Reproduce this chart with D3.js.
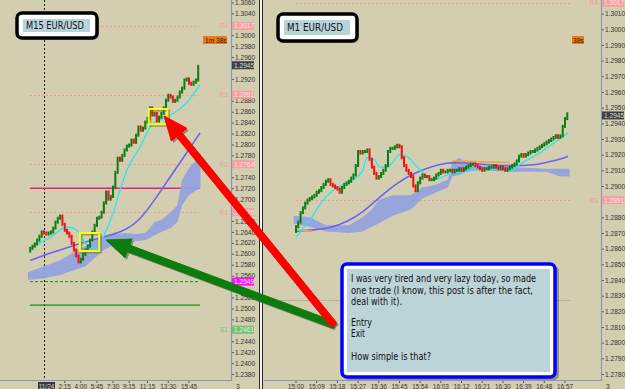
<!DOCTYPE html>
<html>
<head>
<meta charset="utf-8">
<script src="https://cdn.jsdelivr.net/npm/d3@7"></script>
<style>
  body { margin: 0; background: #d4ceb1; }
  text { font-family: "Liberation Sans", Arial, sans-serif; }
</style>
</head>
<body>
<svg id="chart" width="625" height="389"></svg>
<script>
// ---- M15 panel data (bar 0 = 11/24 00:00, 15 min bars) ----
const m15StartBar = -6;
const m15FirstOpen = 1.2605;
const m15Closes = [
  1.2610, 1.2614, 1.2618, 1.2625, 1.2632, 1.2640, 1.2638, 1.2636, 1.2638, 1.2640,
  1.2647, 1.2658, 1.2665, 1.2669, 1.2654, 1.2643, 1.2638, 1.2632, 1.2619, 1.2607,
  1.2596, 1.2585, 1.2590, 1.2599, 1.2607, 1.2614, 1.2625, 1.2640, 1.2652, 1.2665,
  1.2667, 1.2676, 1.2693, 1.2713, 1.2700, 1.2705, 1.2722, 1.2749, 1.2775, 1.2771,
  1.2780, 1.2790, 1.2797, 1.2799, 1.2808, 1.2804, 1.2817, 1.2832, 1.2826, 1.2830,
  1.2841, 1.2848, 1.2867, 1.2854, 1.2857, 1.2843, 1.2850, 1.2857, 1.2867, 1.2881,
  1.2890, 1.2887, 1.2879, 1.2881, 1.2887, 1.2896, 1.2903, 1.2918, 1.2920, 1.2912,
  1.2910, 1.2914, 1.2918, 1.2943
];
// [bar, price]
const m15Fast = [[-6,1.2610],[2.6,1.2630],[10,1.2649],[14.3,1.2643],[18.7,1.2616],[23,1.2610],
  [25.7,1.2630],[30,1.2674],[33,1.2716],[36,1.2753],[41.7,1.2795],[47.4,1.2839],[53.5,1.2850],
  [58,1.2862],[61.5,1.2874],[67.8,1.2909]];
const m15Slow = [[-6,1.2588],[2.6,1.2601],[17,1.2621],[24.3,1.2629],[34.3,1.2640],[41.7,1.2661],
  [49,1.2704],[57.8,1.2759],[67.8,1.2821]];
// [bar, spanTop, spanBottom]
const m15Cloud = [[-7,1.2566,1.2552],[0,1.2577,1.2555],[7,1.2588,1.2561],[13,1.2603,1.2570],
  [18,1.2614,1.2577],[22,1.2625,1.2592],[26,1.2632,1.2607],[31,1.2636,1.2618],[35,1.2638,1.2621],
  [40,1.2636,1.2623],[44,1.2638,1.2625],[46,1.2647,1.2629],[48,1.2658,1.2634],[51,1.2662,1.2640],
  [55,1.2676,1.2647],[58,1.2689,1.2658],[60,1.2735,1.2689],[63,1.2757,1.2707],[66,1.2771,1.2716],
  [68,1.2786,1.2720]];
const m15Ticks = d3.range(0, 35).map(i => 1.2380 + i * 0.0020);
const m15TimeBars = [9, 16, 23, 30, 37, 45, 54, 63];
const m15TimeLabels = ["2:15", "4:00", "5:45", "7:30", "9:15", "11:15", "13:30", "15:45"];
const m15Pivots = [["R4", 1.3017], ["R3", 1.2891], ["R2", 1.2764], ["R1", 1.2676]];
const m15HLine = 1.2720;
const m15GreenDotted = 1.2549;
const m15GreenSolid = 1.2506;
const m15S1 = 1.2461;
const lastPrice = 1.2945;

// ---- M1 panel data (bar 0 = 15:00, 1 min bars) ----
const m1FirstOpen = 1.2871;
const m1Closes = [
  1.2874, 1.2877, 1.2883, 1.2886, 1.2889, 1.2891, 1.2892, 1.2893, 1.2894, 1.2896,
  1.2897, 1.2899, 1.2901, 1.2903, 1.2904, 1.2901, 1.2900, 1.2899, 1.2898, 1.2896,
  1.2899, 1.2901, 1.2902, 1.2903, 1.2905, 1.2907, 1.2913, 1.2922, 1.2921, 1.2922,
  1.2922, 1.2923, 1.2917, 1.2912, 1.2908, 1.2905, 1.2906, 1.2908, 1.2910, 1.2913,
  1.2922, 1.2924, 1.2924, 1.2925, 1.2926, 1.2925, 1.2918, 1.2913, 1.2910, 1.2908,
  1.2906, 1.2900, 1.2897, 1.2902, 1.2905, 1.2907, 1.2906, 1.2906, 1.2904, 1.2904,
  1.2905, 1.2907, 1.2908, 1.2910, 1.2909, 1.2909, 1.2910, 1.2910, 1.2909, 1.2910,
  1.2910, 1.2911, 1.2910, 1.2911, 1.2912, 1.2913, 1.2914, 1.2914, 1.2913, 1.2912,
  1.2911, 1.2910, 1.2911, 1.2911, 1.2912, 1.2912, 1.2913, 1.2912, 1.2911, 1.2912,
  1.2911, 1.2910, 1.2911, 1.2912, 1.2913, 1.2914, 1.2916, 1.2919, 1.2920, 1.2919,
  1.2920, 1.2921, 1.2922, 1.2922, 1.2923, 1.2924, 1.2925, 1.2926, 1.2927, 1.2928,
  1.2929, 1.2930, 1.2931, 1.2932, 1.2931, 1.2932, 1.2938, 1.2943, 1.2946
];
const m1Fast = [[0,1.2867],[3,1.2873],[6,1.2878],[9,1.2885],[13,1.2893],[18,1.2899],[22,1.2902],
  [26,1.2905],[29,1.2910],[31,1.2918],[34,1.2917],[36.5,1.2912],[39.5,1.2912],[42,1.2915],
  [45,1.2920],[48,1.2919],[51,1.2915],[54,1.2910],[57,1.2906],[59.5,1.2904],[62.6,1.2905],
  [65.6,1.2907],[72.6,1.2909],[80,1.2911],[85.6,1.2911],[91.7,1.2910],[94.3,1.2911],
  [98.7,1.2915],[106,1.2921],[111.7,1.2927],[115.6,1.2931],[118.3,1.2934]];
const m1Slow = [[0,1.2871],[7.4,1.2872],[14.8,1.2873],[22,1.2877],[29,1.2883],[36.5,1.2893],
  [44,1.2902],[51,1.2908],[58,1.2912],[65.6,1.2915],[72.6,1.2915],[80,1.2914],[87.4,1.2913],
  [94.3,1.2913],[101.7,1.2913],[109,1.2915],[115,1.2917],[118.3,1.2919]];
const m1Kijun = [[[0,1.2872],[7,1.2871]], [[68,1.2916],[93,1.2915]]];
const m1Cloud = [[-1,1.2881,1.2876],[6,1.2880,1.2874],[13,1.2875,1.2871],[23,1.2875,1.2870],
  [29,1.2880,1.2871],[33,1.2885,1.2874],[36,1.2891,1.2876],[42,1.2894,1.2881],[50,1.2894,1.2885],
  [55,1.2899,1.2892],[61,1.2901,1.2896],[66,1.2904,1.2899],[68,1.2915,1.2906],[71,1.2918,1.2907],
  [74,1.2915,1.2909],[80,1.2913,1.2910],[94,1.2912,1.2909],[109,1.2911,1.2909],[115,1.2911,1.2906],
  [119,1.2911,1.2906]];
const m1Ticks = d3.range(0, 24).map(i => 1.2780 + i * 0.0010);
const m1TimeBars = d3.range(0, 118, 9);
const m1TimeLabels = ["15:00","15:09","15:18","15:27","15:36","15:45","15:54","16:03","16:12","16:21","16:30","16:39","16:48","16:57"];
const m1Pivots = [["R4", 1.3017], ["R3", 1.2891]];
const m1GreyLine = 1.2827;

const note = ["I was very tired and very lazy today, so made",
  "one trade (I know, this post is after the fact,",
  "deal with it).", "", "Entry", "Exit", "", "How simple is that?"];

// ---- layout ----
const BG = "#d4ceb1";
const svg = d3.select("#chart");
svg.append("rect").attr("width", 625).attr("height", 389).attr("fill", BG);

const yL = d3.scaleLinear().domain([1.2380, 1.3060]).range([374, 2.4]);
const xL = d3.scaleLinear().domain([0, 63]).range([44, 189]);
const yR = d3.scaleLinear().domain([1.2780, 1.3010]).range([374, 13.6]);
const xR = d3.scaleLinear().domain([0, 117]).range([296, 565]);

svg.append("defs").html(`
  <clipPath id="clipL"><rect x="0" y="0" width="231" height="380"/></clipPath>
  <clipPath id="clipR"><rect x="265" y="0" width="336" height="380"/></clipPath>`);

function drawPanel(opt) {
  const { x, y, g } = opt;

  // pivot dotted lines
  opt.pivots.forEach(([name, p]) => {
    g.append("line").attr("x1", opt.lineX[0]).attr("x2", opt.lineX[1])
      .attr("y1", Math.round(y(p)) + 0.5).attr("y2", Math.round(y(p)) + 0.5)
      .attr("stroke", "#f29a9a").attr("stroke-dasharray", "2,2");
  });

  // cloud
  g.append("path").datum(opt.cloud)
    .attr("d", d3.area().x(d => x(d[0])).y0(d => y(d[2])).y1(d => y(d[1])))
    .attr("fill", "#93a2dd").attr("opacity", 0.95);

  // moving averages
  g.append("path").datum(opt.slow)
    .attr("d", d3.line().x(d => x(d[0])).y(d => y(d[1])).curve(d3.curveBasis))
    .attr("fill", "none").attr("stroke", "#6b63f2").attr("stroke-width", 1.6);
  (opt.kijun || []).forEach(seg => {
    g.append("path").datum(seg)
      .attr("d", d3.line().x(d => x(d[0])).y(d => y(d[1])))
      .attr("fill", "none").attr("stroke", "#f0a050").attr("stroke-width", 1.6);
  });
  g.append("path").datum(opt.fast)
    .attr("d", d3.line().x(d => x(d[0])).y(d => y(d[1])).curve(d3.curveMonotoneX))
    .attr("fill", "none").attr("stroke", "#22e8f0").attr("stroke-width", 1.3);

  // candles
  const bars = opt.closes.map((c, i) => ({
    b: opt.startBar + i, o: i ? opt.closes[i - 1] : opt.firstOpen, c
  }));
  g.selectAll(".c").data(bars).enter().append("rect")
    .attr("x", d => x(d.b) - 1)
    .attr("width", 2)
    .attr("y", d => Math.min(y(d.o), y(d.c)) - 1.5)
    .attr("height", d => Math.abs(y(d.o) - y(d.c)) + 3)
    .attr("fill", d => d.c >= d.o ? "#0b7d12" : "#f01010");
}

// ---------- left panel ----------
const gL = svg.append("g").attr("clip-path", "url(#clipL)");
// midnight separator
gL.append("line").attr("x1", xL(0) + 0.5).attr("x2", xL(0) + 0.5).attr("y1", 0).attr("y2", 380)
  .attr("stroke", "#222").attr("stroke-dasharray", "2,2");
gL.append("line").attr("x1", 30).attr("x2", 200).attr("y1", yL(m15HLine)).attr("y2", yL(m15HLine))
  .attr("stroke", "#ee1a8c").attr("stroke-width", 1.5);
gL.append("line").attr("x1", 30).attr("x2", 200).attr("y1", yL(m15GreenDotted)).attr("y2", yL(m15GreenDotted))
  .attr("stroke", "#148c14").attr("stroke-dasharray", "3,2");
gL.append("line").attr("x1", 30).attr("x2", 200).attr("y1", yL(m15GreenSolid)).attr("y2", yL(m15GreenSolid))
  .attr("stroke", "#109010").attr("stroke-width", 1.3);
drawPanel({ g: gL, x: xL, y: yL, closes: m15Closes, startBar: m15StartBar, firstOpen: m15FirstOpen,
  fast: m15Fast, slow: m15Slow, cloud: m15Cloud, pivots: m15Pivots, lineX: [30, 199] });

// ---------- right panel ----------
const gR = svg.append("g").attr("clip-path", "url(#clipR)");
gR.append("line").attr("x1", 265).attr("x2", 570).attr("y1", Math.round(yR(m1GreyLine)) + 0.5)
  .attr("y2", Math.round(yR(m1GreyLine)) + 0.5).attr("stroke", "#b5b0a0");
drawPanel({ g: gR, x: xR, y: yR, closes: m1Closes, startBar: 0, firstOpen: m1FirstOpen,
  fast: m1Fast, slow: m1Slow, kijun: m1Kijun, cloud: m1Cloud, pivots: m1Pivots, lineX: [296, 572] });

// ---------- axes ----------
const AXIS = "#8b96b8";
function priceAxis(x0, y, ticks, tagPrices) {
  // labels hidden behind the price tags are left out
  const shown = ticks.filter(t => tagPrices.every(p => Math.abs(y(t) - y(p)) > 6));
  const a = svg.append("g").attr("transform", `translate(${x0},0)`)
    .call(d3.axisRight(y).tickValues(shown).tickFormat(d3.format(".4f")).tickSize(3).tickPadding(1));
  a.select(".domain").remove();
  a.selectAll("line").attr("stroke", "#555");
  a.selectAll("text").attr("fill", "#333").style("font-size", "6.6px").style("font-family", "Liberation Sans");
  svg.append("line").attr("x1", x0 + 0.5).attr("x2", x0 + 0.5).attr("y1", 0).attr("y2", 380.5)
    .attr("stroke", AXIS).attr("stroke-width", 1.2);
}
function timeAxis(x, x0, x1, bars, labels) {
  svg.append("line").attr("x1", x0).attr("x2", x1).attr("y1", 380.5).attr("y2", 380.5)
    .attr("stroke", AXIS).attr("stroke-width", 1.2);
  bars.forEach((b, i) => {
    svg.append("line").attr("x1", x(b)).attr("x2", x(b)).attr("y1", 381).attr("y2", 383).attr("stroke", "#555");
    svg.append("text").attr("x", x(b)).attr("y", 388.5).attr("text-anchor", "middle")
      .attr("fill", "#333").style("font-size", "6.4px").text(labels[i]);
  });
}
const m15TagPrices = m15Pivots.map(d => d[1]).concat([m15GreenDotted, m15S1, lastPrice]);
const m1TagPrices = m1Pivots.map(d => d[1]).concat([lastPrice]);
priceAxis(231, yL, m15Ticks, m15TagPrices);
priceAxis(601, yR, m1Ticks, m1TagPrices);
timeAxis(xL, 0, 232, m15TimeBars, m15TimeLabels);
timeAxis(xR, 264, 602, m1TimeBars, m1TimeLabels);
svg.append("rect").attr("x", 38).attr("y", 382).attr("width", 17).attr("height", 7).attr("fill", "#3a3a3a");
svg.append("text").attr("x", 46.5).attr("y", 388.5).attr("text-anchor", "middle").attr("fill", "#cfcfcf")
  .style("font-size", "6.4px").text("11/24");
svg.append("text").attr("x", 236).attr("y", 388.5).attr("fill", "#333").style("font-size", "6.6px").text("3");
svg.append("text").attr("x", 606).attr("y", 388.5).attr("fill", "#333").style("font-size", "6.6px").text("3");

// price tags on the axes
function tag(x0, y, price, bg, fg, name, nameColor) {
  const yy = y(price);
  svg.append("rect").attr("x", x0 + 1).attr("y", yy - 4).attr("width", 22).attr("height", 8).attr("fill", bg);
  svg.append("text").attr("x", x0 + 3).attr("y", yy + 2.5).attr("fill", fg)
    .style("font-size", "6.6px").text(d3.format(".4f")(price));
  if (name) svg.append("text").attr("x", x0 - 3).attr("y", yy + 2.5).attr("text-anchor", "end")
    .attr("fill", nameColor).style("font-size", "6.6px").text(name);
}
m15Pivots.forEach(([n, p]) => tag(231, yL, p, "#f5a0a0", "#fde0e0", n, "#f09a9a"));
tag(231, yL, m15GreenDotted, "#ff10ff", "#ffe0ff", "", "");
tag(231, yL, m15S1, "#78c078", "#dff3df", "S1", "#80c080");
tag(231, yL, lastPrice, "#404040", "#d8d8d8", "", "");
m1Pivots.forEach(([n, p]) => tag(601, yR, p, "#f5a0a0", "#fde0e0", n, "#f09a9a"));
tag(601, yR, lastPrice, "#404040", "#d8d8d8", "", "");

// bar timers
svg.append("rect").attr("x", 203).attr("y", 36).attr("width", 24).attr("height", 8).attr("fill", "#f07810");
svg.append("text").attr("x", 205).attr("y", 42.5).attr("fill", "#222").style("font-size", "6.6px").text("1m 38s");
svg.append("rect").attr("x", 572).attr("y", 36).attr("width", 12).attr("height", 8).attr("fill", "#f07810");
svg.append("text").attr("x", 573).attr("y", 42.5).attr("fill", "#222").style("font-size", "6.6px").text("38s");

// panel separator
[[259.5, "#2a2a2a"], [260.5, "#f4f4f4"], [261.5, "#f4f4f4"], [262.5, "#2a2a2a"]].forEach(([xx, c]) =>
  svg.append("line").attr("x1", xx).attr("x2", xx).attr("y1", 0).attr("y2", 389).attr("stroke", c));

// title boxes
function titleBox(x0, y0, w, h, label, tw) {
  svg.append("rect").attr("x", x0 + 2).attr("y", y0 + 2).attr("width", w).attr("height", h).attr("rx", 5)
    .attr("fill", "#8a8578").attr("opacity", 0.6);
  svg.append("rect").attr("x", x0).attr("y", y0).attr("width", w).attr("height", h).attr("rx", 5)
    .attr("fill", "#fff").attr("stroke", "#000").attr("stroke-width", 3.5);
  svg.append("rect").attr("x", x0 + 6).attr("y", y0 + 6).attr("width", w - 13).attr("height", h - 12)
    .attr("fill", "#b9d3da");
  svg.append("text").attr("x", x0 + 9).attr("y", y0 + h / 2 + 3.5).attr("fill", "#111")
    .attr("textLength", tw).attr("lengthAdjust", "spacingAndGlyphs")
    .style("font-size", "10px").style("font-family", "DejaVu Sans").text(label);
}
titleBox(17, 13, 80, 25, "M15 EUR/USD", 58);
titleBox(278, 14, 79, 27, "M1 EUR/USD", 56);

// highlight boxes
function hiBox(x, y, b0, b1, p0, p1) {
  const xa = x(b0), xb = x(b1), ya = y(p0), yb = y(p1);
  svg.append("rect").attr("x", xa + 1.5).attr("y", ya + 1.5).attr("width", xb - xa).attr("height", yb - ya)
    .attr("fill", "none").attr("stroke", "#6e6a55").attr("stroke-width", 2).attr("opacity", 0.6);
  svg.append("rect").attr("x", xa).attr("y", ya).attr("width", xb - xa).attr("height", yb - ya)
    .attr("fill", "none").attr("stroke", "#ffff00").attr("stroke-width", 2);
}
hiBox(xL, yL, 15.6, 24, 1.2638, 1.2605);
hiBox(xL, yL, 45.5, 53.6, 1.2865, 1.2837);

// arrows
function arrow(tail, tip, w, hl, hw, color) {
  const dx = tip[0] - tail[0], dy = tip[1] - tail[1], L = Math.hypot(dx, dy);
  const ux = dx / L, uy = dy / L, px = -uy, py = ux;
  const bx = tip[0] - ux * hl, by = tip[1] - uy * hl;
  const pts = [
    [tail[0] + px * w / 2, tail[1] + py * w / 2], [bx + px * w / 2, by + py * w / 2],
    [bx + px * hw / 2, by + py * hw / 2], tip,
    [bx - px * hw / 2, by - py * hw / 2], [bx - px * w / 2, by - py * w / 2],
    [tail[0] - px * w / 2, tail[1] - py * w / 2]];
  const line = d3.line();
  svg.append("path").attr("d", line(pts.map(p => [p[0] + 2, p[1] + 2])) + "Z")
    .attr("fill", "#3a3a30").attr("opacity", 0.45).attr("stroke-linejoin", "round");
  svg.append("path").attr("d", line(pts) + "Z").attr("fill", color)
    .attr("stroke", color).attr("stroke-width", 1).attr("stroke-linejoin", "round");
}
arrow([334, 325], [106, 240], 7, 24, 20, "#0c7d0c");
arrow([334, 325], [164, 116], 7, 24, 20, "#ff0000");

// note box
svg.append("rect").attr("x", 344).attr("y", 266).attr("width", 215).attr("height", 114).attr("rx", 5)
  .attr("fill", "#505060").attr("opacity", 0.5);
svg.append("rect").attr("x", 342).attr("y", 264).attr("width", 213).attr("height", 113).attr("rx", 5)
  .attr("fill", "#fff").attr("stroke", "#0000ff").attr("stroke-width", 3.5);
svg.append("rect").attr("x", 347).attr("y", 269).attr("width", 203).attr("height", 103).attr("fill", "#bcd3d7");
const noteWidths = [185, 182, 51, 0, 21, 14, 0, 80];
const noteY = [282, 293.5, 305, 0, 326, 337, 0, 360];
note.forEach((t, i) => {
  if (!t) return;
  svg.append("text").attr("x", 351).attr("y", noteY[i]).attr("fill", "#111")
    .attr("textLength", noteWidths[i]).attr("lengthAdjust", "spacingAndGlyphs")
    .style("font-size", "10px").style("font-family", "DejaVu Sans").text(t);
});
</script>
</body>
</html>
